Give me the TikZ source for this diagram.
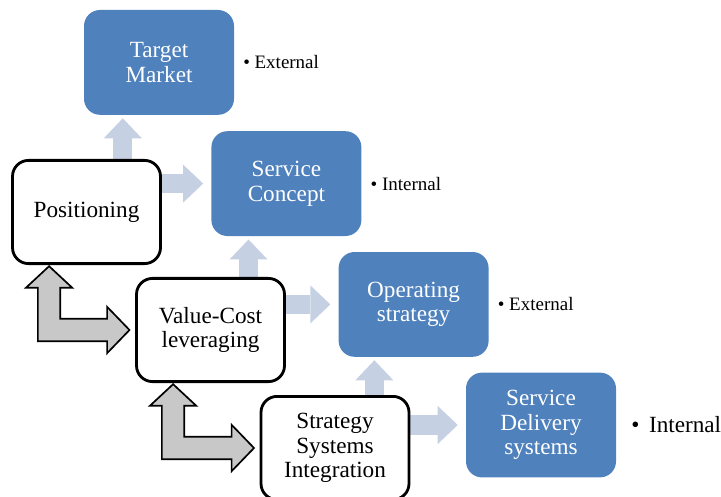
\documentclass[tikz,border=0pt]{standalone}
\usepackage{fontspec}
\setmainfont{Liberation Serif}
\usetikzlibrary{arrows.meta, calc, positioning, backgrounds}
\definecolor{boxblue}{RGB}{79,129,189}
\definecolor{flowblue}{RGB}{197,208,227}
\definecolor{linkgray}{RGB}{200,200,200}

\begin{document}
\begin{tikzpicture}[
    element/.style={fill=boxblue, text=white, rounded corners=0.4cm, minimum width=3.75cm, minimum height=2.62cm, align=center, font=\fontsize{16.5}{17.5}\selectfont},
    strategy/.style={draw, line width=2pt, fill=white, rounded corners=0.4cm, minimum width=3.7cm, minimum height=2.58cm, align=center, font=\fontsize{16.5}{17.5}\selectfont},
    flow/.style={draw=flowblue, line width=0.48cm, -{Triangle[length=0.5cm, width=0.95cm, line width=0pt]}},
    link/.style={draw, line width=1.2pt, fill=linkgray, line join=miter},
    note/.style={font=\fontsize{13.5}{16}\selectfont}
  ]
    \useasboundingbox (0, 0) rectangle (18.025, 12.4);

    % service elements
    \node[element] (tm) at (3.975, 10.84) {Target\\Market};
    \node[element] (sc) at (7.16, 7.81) {Service\\Concept};
    \node[element] (os) at (10.34, 4.79) {Operating\\strategy};
    \node[element] (sd) at (13.525, 1.775) {Service\\Delivery\\systems};

    \node[note, right=0.1cm of tm] {• External};
    \node[note, right=0.1cm of sc] {• Internal};
    \node[note, right=0.1cm of os] {• External};
    \node[note, right=0.25cm of sd, font=\fontsize{16.5}{19}\selectfont] {•\, Internal};

    % strategic elements
    \node[strategy] (pos) at (2.1625, 7.1) {Positioning};
    \node[strategy] (vc) at (5.2625, 4.15) {Value-Cost\\leveraging};
    \node[strategy] (ssi) at (8.375, 1.2) {Strategy\\Systems\\Integration};

    % light arrows behind the boxes
    \begin{scope}[on background layer]
        \coordinate (m1) at ($(tm.south west)!0.5!(pos.north east)$);
        \coordinate (m2) at ($(sc.south west)!0.5!(vc.north east)$);
        \coordinate (m3) at ($(os.south west)!0.5!(ssi.north east)$);
        \draw[flow, shorten >=0.08cm] (m1 |- pos.north) -- (m1 |- tm.south);
        \draw[flow, shorten >=0.2cm] (pos.east |- sc.west) -- (sc.west);
        \draw[flow, shorten >=0.08cm] (m2 |- vc.north) -- (m2 |- sc.south);
        \draw[flow, shorten >=0.2cm] (vc.east |- os.west) -- (os.west);
        \draw[flow, shorten >=0.08cm] (m3 |- ssi.north) -- (m3 |- os.south);
        \draw[flow, shorten >=0.2cm] (ssi.east |- sd.west) -- (sd.west);
    \end{scope}

    % bent double arrows between the strategic elements
    \foreach \a/\b in {pos/vc, vc/ssi} {
        \coordinate (t1) at ([xshift=0.95cm, yshift=-0.03cm]\a.south west);
        \coordinate (t2) at ([xshift=-0.14cm]\b.west);
        \draw[link] (t1) -- ++(0.58, -0.54) -- ++(-0.3, 0) -- ($(t1 |- t2)+(0.28, 0.28)$)
            -- ($(t2)+(-0.56, 0.28)$) -- ++(0, 0.3) -- (t2) -- ++(-0.56, -0.58) -- ++(0, 0.3)
            -- ($(t1 |- t2)+(-0.28, -0.28)$) -- ($(t1)+(-0.28, -0.54)$) -- ++(-0.3, 0) -- cycle;
    }
\end{tikzpicture}
\end{document}
